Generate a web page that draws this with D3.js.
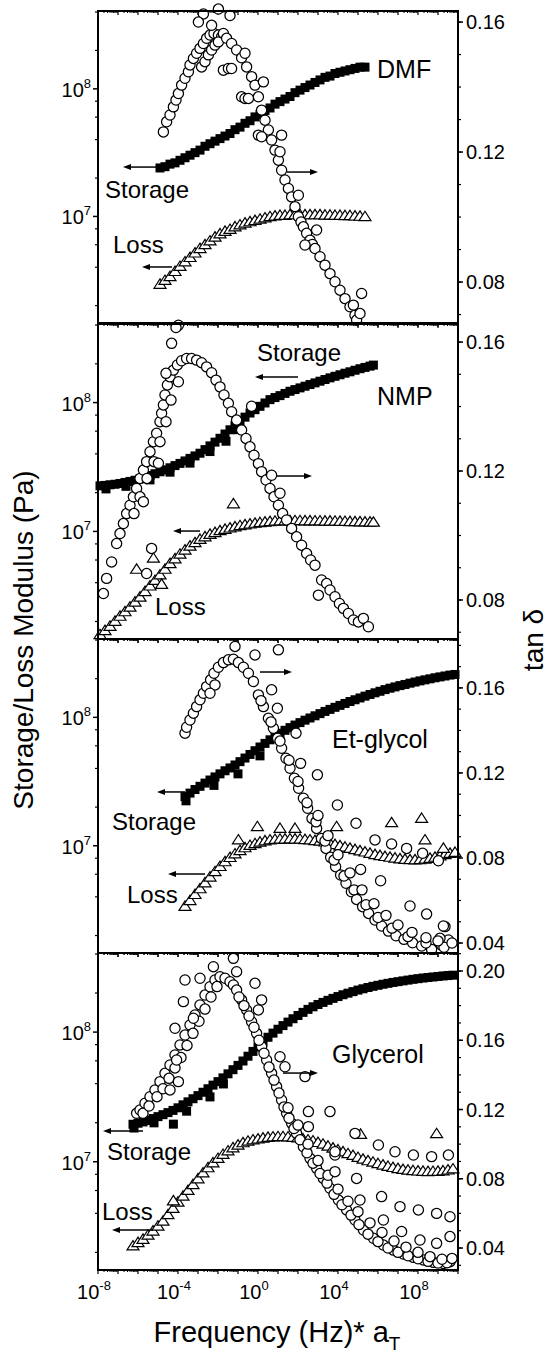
<!DOCTYPE html>
<html><head><meta charset="utf-8">
<script src="https://cdn.jsdelivr.net/npm/d3@7"></script>
<style>body{margin:0;background:#fff}svg{display:block}text{font-family:"Liberation Sans",Arial,sans-serif;fill:#000}</style>
</head><body><svg id="c" width="550" height="1355"></svg>
<script>
// ---------- DATA: [log10 frequency (Hz*aT), log10 modulus (Pa)] or [log10 f, tan delta] ----------
const xTickExps = [-8, -4, 0, 4, 8];
const panelNames = ["DMF", "NMP", "Et-glycol", "Glycerol"];
const tanTickLabels = [[0.08,0.12,0.16],[0.08,0.12,0.16],[0.04,0.08,0.12,0.16],[0.04,0.08,0.12,0.16,0.20]];

const dmfStorage = [[-4.90,7.38],[-4.65,7.39],[-4.40,7.41],[-4.15,7.42],[-3.90,7.44],[-3.65,7.46],[-3.40,7.48],[-3.15,7.50],[-2.90,7.52],[-2.65,7.55],[-2.40,7.57],[-2.15,7.59],[-1.90,7.61],[-1.65,7.63],[-1.40,7.65],[-1.15,7.68],[-0.90,7.70],[-0.65,7.73],[-0.40,7.75],[-0.15,7.78],[0.10,7.80],[0.35,7.83],[0.60,7.85],[0.85,7.88],[1.10,7.90],[1.35,7.92],[1.60,7.94],[1.85,7.97],[2.10,7.99],[2.35,8.01],[2.60,8.03],[2.85,8.05],[3.10,8.07],[3.35,8.09],[3.60,8.10],[3.85,8.12],[4.10,8.13],[4.35,8.14],[4.60,8.15],[4.85,8.16],[5.10,8.17],[5.35,8.17]];
const dmfLoss = [[-4.90,6.47],[-4.65,6.50],[-4.40,6.53],[-4.15,6.57],[-3.90,6.61],[-3.65,6.645],[-3.40,6.68],[-3.15,6.715],[-2.90,6.75],[-2.65,6.78],[-2.40,6.81],[-2.15,6.84],[-1.90,6.865],[-1.65,6.885],[-1.40,6.90],[-1.15,6.92],[-0.90,6.935],[-0.65,6.95],[-0.40,6.96],[-0.15,6.97],[0.10,6.98],[0.35,6.99],[0.60,7.00],[0.85,7.005],[1.10,7.01],[1.35,7.01],[1.60,7.015],[1.85,7.015],[2.10,7.015],[2.35,7.015],[2.60,7.015],[2.85,7.015],[3.10,7.015],[3.35,7.012],[3.60,7.012],[3.85,7.01],[4.10,7.01],[4.35,7.008],[4.60,7.008],[4.85,7.005],[5.10,7.003],[5.35,7.0]];
const dmfTan = [[-4.73,0.1262],[-4.57,0.1293],[-4.40,0.1314],[-4.23,0.1339],[-4.10,0.1360],[-3.98,0.1380],[-3.82,0.1406],[-3.65,0.1427],[-3.48,0.1447],[-3.40,0.1468],[-3.23,0.1488],[-3.07,0.1504],[-2.90,0.1519],[-2.73,0.1534],[-2.57,0.1550],[-2.40,0.1560],[-2.20,0.1565],[-1.98,0.1560],[-1.82,0.1555],
[-2.82,0.1462],[-2.65,0.1478],[-2.48,0.1499],[-2.32,0.1514],[-2.15,0.1529],[-1.98,0.1539],
[-2.73,0.1625],[-1.98,0.1640],[-1.40,0.1620],[-2.98,0.1600],[-2.32,0.1590],[-1.73,0.1565],
[-1.57,0.1550],[-1.32,0.1534],[-1.07,0.1514],[-0.82,0.1490],[-0.57,0.1462],[-0.32,0.1432],[-0.15,0.1406],[0.02,0.1370],[0.18,0.1329],[0.35,0.1298],[0.52,0.1268],[0.68,0.1237],[0.85,0.1206],[1.02,0.1175],[1.18,0.1144],[1.35,0.1114],[1.52,0.1088],[1.68,0.1062],[1.85,0.1032],[2.02,0.1001],[2.15,0.0985],[2.27,0.0970],[2.43,0.0950],[2.60,0.0929],[2.72,0.0916],[2.85,0.0903],[3.10,0.0878],[3.35,0.0852],[3.60,0.0826],[3.85,0.0801],[4.10,0.0775],[4.35,0.0749],[4.60,0.0724],[4.85,0.0698],[4.93,0.0683],
[-1.73,0.1452],[-1.48,0.1457],[-1.32,0.1457],[-0.82,0.1370],[-0.65,0.1365],[-0.48,0.1365],[0.02,0.1252],[0.18,0.1247],
[-0.65,0.1504],[0.27,0.1416],[1.18,0.1252],[1.10,0.1201],[2.02,0.1067],[2.93,0.0960],[2.35,0.0914],[5.18,0.0765],[4.77,0.0729],[5.10,0.0703],[-3.98,0.0667]];

const nmpStorage = [[-7.90,7.354],[-7.65,7.357],[-7.40,7.362],[-7.15,7.366],[-6.90,7.372],[-6.65,7.380],[-6.40,7.388],[-6.15,7.397],[-5.90,7.408],[-5.65,7.420],[-5.40,7.434],[-5.15,7.448],[-4.90,7.463],[-4.65,7.478],[-4.40,7.494],[-4.15,7.511],[-3.90,7.528],[-3.65,7.547],[-3.40,7.567],[-3.15,7.586],[-2.90,7.607],[-2.65,7.635],[-2.40,7.664],[-2.15,7.693],[-1.90,7.723],[-1.65,7.756],[-1.40,7.789],[-1.15,7.821],[-0.90,7.854],[-0.65,7.887],[-0.40,7.919],[-0.15,7.945],[0.10,7.971],[0.35,7.997],[0.60,8.023],[0.85,8.039],[1.10,8.054],[1.35,8.071],[1.60,8.088],[1.85,8.101],[2.10,8.114],[2.35,8.127],[2.60,8.140],[2.85,8.153],[3.10,8.166],[3.35,8.179],[3.60,8.192],[3.85,8.204],[4.10,8.216],[4.35,8.228],[4.60,8.239],[4.85,8.251],[5.10,8.263],[5.35,8.273],[5.60,8.283],[5.77,8.291],
[-7.6,7.33],[-6.6,7.35],[-5.4,7.40],[-4.4,7.46],[-3.4,7.53],[-2.4,7.62],[-1.6,7.70],[-1.0,7.79]];
const nmpLoss = [[-7.90,6.200],[-7.65,6.232],[-7.40,6.265],[-7.15,6.304],[-6.90,6.343],[-6.65,6.378],[-6.40,6.414],[-6.15,6.453],[-5.90,6.492],[-5.65,6.535],[-5.40,6.578],[-5.15,6.621],[-4.90,6.664],[-4.65,6.708],[-4.40,6.752],[-4.15,6.789],[-3.90,6.825],[-3.65,6.857],[-3.40,6.888],[-3.15,6.914],[-2.90,6.940],[-2.65,6.960],[-2.40,6.979],[-2.15,6.993],[-1.90,7.007],[-1.65,7.018],[-1.40,7.028],[-1.15,7.037],[-0.90,7.046],[-0.65,7.053],[-0.40,7.059],[-0.15,7.065],[0.10,7.070],[0.35,7.074],[0.60,7.078],[0.85,7.081],[1.10,7.083],[1.35,7.084],[1.60,7.085],[1.85,7.085],[2.10,7.085],[2.35,7.084],[2.60,7.084],[2.85,7.083],[3.10,7.083],[3.35,7.082],[3.60,7.082],[3.85,7.081],[4.10,7.080],[4.35,7.079],[4.60,7.078],[4.85,7.077],[5.10,7.076],[5.35,7.075],[5.60,7.074],[5.77,7.073],
[-1.23,7.216],[-6.07,6.708],[-5.23,6.794],[-4.82,6.591]];
const nmpTan = [[-7.73,0.0820],[-7.57,0.0867],[-7.32,0.0918],[-7.07,0.0975],[-6.90,0.1006],[-6.73,0.1037],[-6.57,0.1068],[-6.40,0.1094],[-6.23,0.1120],[-6.07,0.1146],[-5.90,0.1177],[-5.73,0.1203],[-5.57,0.1229],[-5.40,0.1260],[-5.23,0.1291],[-5.07,0.1317],[-4.90,0.1353],[-4.82,0.1379],[-4.73,0.1405],[-4.65,0.1436],[-4.53,0.1467],[-4.40,0.1492],[-4.23,0.1513],[-4.03,0.1529],[-3.82,0.1542],[-3.57,0.1549],[-3.32,0.1549],[-3.07,0.1544],[-2.82,0.1536],[-2.57,0.1523],[-2.32,0.1505],[-2.10,0.1482],[-1.90,0.1461],[-1.70,0.1436],[-1.48,0.1410],[-1.32,0.1384],[-1.07,0.1358],[-0.82,0.1327],[-0.60,0.1301],[-0.40,0.1275],[-0.20,0.1249],[0.02,0.1223],[0.18,0.1198],[0.40,0.1172],[0.60,0.1146],[0.80,0.1120],[1.02,0.1094],[1.23,0.1068],[1.43,0.1048],[1.68,0.1022],[1.93,0.0996],[2.18,0.0970],[2.43,0.0944],[2.63,0.0924],[2.85,0.0908],
[3.02,0.0815],[3.18,0.0862],[3.43,0.0851],[3.60,0.0831],[3.85,0.0810],[4.07,0.0789],[4.27,0.0774],[4.52,0.0758],[4.77,0.0738],[5.02,0.0732],[5.27,0.0743],[5.52,0.0717],
[-6.2,0.1068],[-5.9,0.1120],[-5.55,0.1177],[-5.2,0.1229],[-4.9,0.1291],[-4.6,0.1353],[-4.35,0.1420],
[-5.73,0.1105],[-4.98,0.1224],[-5.32,0.0960],[-5.57,0.0882],[-4.32,0.1596],[-4.10,0.1645],[-4.60,0.1503],[-3.98,0.1477],[-0.32,0.1401],[0.68,0.1187],[1.10,0.1131]];

const etStorage = [[-3.65,7.383],[-3.40,7.410],[-3.15,7.438],[-2.90,7.463],[-2.65,7.488],[-2.40,7.512],[-2.15,7.536],[-1.90,7.560],[-1.65,7.584],[-1.40,7.606],[-1.15,7.629],[-0.90,7.655],[-0.65,7.683],[-0.40,7.711],[-0.15,7.740],[0.10,7.769],[0.35,7.797],[0.60,7.825],[0.85,7.852],[1.10,7.876],[1.35,7.899],[1.60,7.920],[1.85,7.940],[2.10,7.959],[2.35,7.978],[2.60,7.995],[2.85,8.012],[3.10,8.029],[3.35,8.046],[3.60,8.062],[3.85,8.078],[4.10,8.093],[4.35,8.108],[4.60,8.123],[4.85,8.137],[5.10,8.151],[5.35,8.165],[5.60,8.178],[5.85,8.191],[6.10,8.203],[6.35,8.216],[6.60,8.227],[6.85,8.237],[7.10,8.247],[7.35,8.256],[7.60,8.266],[7.85,8.275],[8.10,8.284],[8.35,8.292],[8.60,8.300],[8.85,8.308],[9.10,8.315],[9.35,8.322],[9.60,8.329],[9.85,8.334],
[-3.6,7.35],[-2.2,7.47],[-1.0,7.56],[0.1,7.70]];
const etLoss = [[-3.65,6.530],[-3.40,6.575],[-3.15,6.622],[-2.90,6.667],[-2.65,6.713],[-2.40,6.758],[-2.15,6.800],[-1.90,6.840],[-1.65,6.877],[-1.40,6.910],[-1.15,6.938],[-0.90,6.964],[-0.65,6.986],[-0.40,7.004],[-0.15,7.018],[0.10,7.030],[0.35,7.040],[0.60,7.047],[0.85,7.051],[1.10,7.053],[1.35,7.054],[1.60,7.055],[1.85,7.054],[2.10,7.053],[2.35,7.050],[2.60,7.047],[2.85,7.042],[3.10,7.037],[3.35,7.031],[3.60,7.021],[3.85,7.011],[4.10,7.001],[4.35,6.991],[4.60,6.982],[4.85,6.972],[5.10,6.962],[5.35,6.953],[5.60,6.943],[5.85,6.933],[6.10,6.925],[6.35,6.918],[6.60,6.912],[6.85,6.906],[7.10,6.900],[7.35,6.896],[7.60,6.893],[7.85,6.892],[8.10,6.893],[8.35,6.897],[8.60,6.904],[8.85,6.912],[9.10,6.922],[9.35,6.932],[9.60,6.943],[9.85,6.950],
[-0.03,7.150],[1.10,7.137],[1.85,7.137],[3.93,7.150],[6.68,7.181],[8.18,7.215],[-0.98,7.047],[8.35,7.047],[9.27,6.982]];
const etTan = [[-3.65,0.1387],[-3.57,0.1415],[-3.40,0.1449],[-3.23,0.1481],[-3.07,0.1512],[-2.90,0.1544],[-2.73,0.1575],[-2.57,0.1606],[-2.37,0.1638],[-2.20,0.1669],[-1.98,0.1697],[-1.73,0.1719],[-1.48,0.1732],[-1.23,0.1735],[-0.98,0.1719],[-0.73,0.1697],[-0.48,0.1669],[-2.15,0.1614],[-2.40,0.1575],
[-0.23,0.1630],[0.02,0.1567],[0.27,0.1512],[0.52,0.1457],[0.77,0.1410],[0.98,0.1363],[1.18,0.1316],[1.40,0.1269],[1.60,0.1222],[1.82,0.1175],[2.03,0.1128],[2.27,0.1081],[2.48,0.1034],[2.70,0.0986],[2.93,0.0939],[3.17,0.0892],[3.40,0.0845],[3.63,0.0803],[3.88,0.0759],[4.13,0.0720],[4.40,0.0681],[4.67,0.0641],[4.93,0.0605],[5.23,0.0571],[5.53,0.0539],[5.85,0.0508],[6.18,0.0480],[6.52,0.0456],[6.90,0.0434],[7.30,0.0417],[7.73,0.0401],[8.18,0.0386],[8.68,0.0370],[9.18,0.0390],[9.52,0.0414],[9.10,0.0422],[9.35,0.0477],
[0.15,0.1540],[0.65,0.1440],[1.1,0.1350],[1.55,0.1260],[2.0,0.1160],[2.45,0.1060],[2.9,0.0970],[3.35,0.0880],[3.8,0.0790],[4.3,0.0715],[4.8,0.0650],[5.4,0.0580],[6.0,0.0520],[6.7,0.0470],[7.5,0.0430],[8.4,0.0400],[9.3,0.0380],
[3.0,0.1000],[3.5,0.0905],[4.0,0.0815],[4.6,0.0730],[5.2,0.0650],[5.8,0.0585],[6.4,0.0530],[7.0,0.0485],[7.7,0.0450],[8.4,0.0425],[9.0,0.0410],[9.7,0.0400],
[-1.15,0.1795],[-0.15,0.1755],[1.02,0.1779],[0.68,0.1591],[0.97,0.1504],[1.90,0.1387],[2.13,0.1245],[2.97,0.1191],[3.97,0.1049],[4.90,0.0963],[5.85,0.0885],[6.68,0.0866],[7.43,0.0845],[8.23,0.0822],[9.02,0.0787],[5.13,0.0746],[6.13,0.0693],[7.60,0.0574],[8.43,0.0536],[9.27,0.0480]];

const glyStorage = [[-6.25,7.289],[-6.00,7.297],[-5.75,7.307],[-5.50,7.318],[-5.25,7.333],[-5.00,7.348],[-4.75,7.363],[-4.50,7.379],[-4.25,7.396],[-4.00,7.416],[-3.75,7.439],[-3.50,7.462],[-3.25,7.486],[-3.00,7.510],[-2.75,7.536],[-2.50,7.563],[-2.25,7.591],[-2.00,7.618],[-1.75,7.647],[-1.50,7.678],[-1.25,7.710],[-1.00,7.743],[-0.75,7.777],[-0.50,7.814],[-0.25,7.851],[0.00,7.886],[0.25,7.924],[0.50,7.960],[0.75,7.992],[1.00,8.022],[1.25,8.050],[1.50,8.077],[1.75,8.103],[2.00,8.128],[2.25,8.152],[2.50,8.175],[2.75,8.195],[3.00,8.213],[3.25,8.229],[3.50,8.245],[3.75,8.260],[4.00,8.274],[4.25,8.288],[4.50,8.300],[4.75,8.312],[5.00,8.324],[5.25,8.334],[5.50,8.344],[5.75,8.353],[6.00,8.361],[6.25,8.369],[6.50,8.376],[6.75,8.383],[7.00,8.389],[7.25,8.395],[7.50,8.401],[7.75,8.407],[8.00,8.412],[8.25,8.417],[8.50,8.421],[8.75,8.425],[9.00,8.429],[9.25,8.433],[9.50,8.436],[9.75,8.439],
[-6.2,7.26],[-5.2,7.30],[-4.23,7.29],[-3.57,7.39],[-2.4,7.50],[-1.73,7.60]];
const glyLoss = [[-6.25,6.352],[-6.00,6.378],[-5.75,6.403],[-5.50,6.435],[-5.25,6.467],[-5.00,6.505],[-4.75,6.543],[-4.50,6.593],[-4.25,6.642],[-4.00,6.690],[-3.75,6.736],[-3.50,6.780],[-3.25,6.825],[-3.00,6.870],[-2.75,6.915],[-2.50,6.955],[-2.25,6.993],[-2.00,7.027],[-1.75,7.058],[-1.50,7.085],[-1.25,7.109],[-1.00,7.130],[-0.75,7.148],[-0.50,7.160],[-0.25,7.170],[0.00,7.177],[0.25,7.184],[0.50,7.190],[0.75,7.193],[1.00,7.195],[1.25,7.195],[1.50,7.193],[1.75,7.190],[2.00,7.186],[2.25,7.178],[2.50,7.170],[2.75,7.162],[3.00,7.150],[3.25,7.137],[3.50,7.122],[3.75,7.107],[4.00,7.093],[4.25,7.078],[4.50,7.064],[4.75,7.050],[5.00,7.035],[5.25,7.021],[5.50,7.009],[5.75,6.998],[6.00,6.987],[6.25,6.976],[6.50,6.966],[6.75,6.957],[7.00,6.949],[7.25,6.942],[7.50,6.937],[7.75,6.933],[8.00,6.930],[8.25,6.928],[8.50,6.926],[8.75,6.927],[9.00,6.928],[9.25,6.931],[9.50,6.938],[9.75,6.946],
[-4.23,6.700],[5.13,7.213],[8.93,7.218]];
const glyTan = [[-6.07,0.1178],[-5.90,0.1197],[-5.65,0.1236],[-5.40,0.1274],[-5.15,0.1313],[-4.90,0.1361],[-4.65,0.1409],[-4.40,0.1457],[-4.15,0.1515],[-3.90,0.1573],[-3.65,0.1630],[-3.40,0.1688],[-3.15,0.1746],[-2.90,0.1804],[-2.65,0.1861],[-2.40,0.1909],[-2.15,0.1948],[-1.90,0.1967],[-1.65,0.1958],[-1.40,0.1938],[-1.23,0.1919],
[-5.75,0.1178],[-5.45,0.1220],[-5.05,0.1274],[-4.75,0.1320],[-4.45,0.1380],[-4.15,0.1440],[-3.85,0.1500],[-3.55,0.1570],[-3.25,0.1640],[-2.95,0.1710],[-2.65,0.1780],[-2.35,0.1850],[-2.05,0.1910],
[-4.15,0.1669],[-3.73,0.1823],[-3.65,0.1948],[-2.90,0.1958],[-2.23,0.2025],[-1.23,0.2073],[-1.07,0.1996],[-3.23,0.1727],[-4.40,0.1313],[-3.98,0.1361],[-4.07,0.1486],
[-1.07,0.1890],[-0.82,0.1833],[-0.57,0.1775],[-0.32,0.1707],[-0.07,0.1640],[0.18,0.1563],[0.43,0.1486],[0.68,0.1409],[0.93,0.1332],[1.18,0.1255],[1.43,0.1178],[1.68,0.1120],[1.93,0.1062],[2.27,0.0985],[2.60,0.0918],[2.93,0.0860],[3.27,0.0802],[3.60,0.0745],[4.02,0.0677],[4.43,0.0620],[4.85,0.0562],[5.27,0.0504],[5.77,0.0456],[6.27,0.0417],[6.77,0.0388],[7.27,0.0365],[7.77,0.0346],[8.27,0.0331],[8.77,0.0317],[9.27,0.0311],[9.60,0.0321],
[-0.95,0.1850],[-0.7,0.1800],[-0.45,0.1740],[-0.2,0.1675],[0.05,0.1600],[0.3,0.1525],[0.55,0.1445],[0.8,0.1370],[1.05,0.1295],[1.3,0.1215],[1.55,0.1150],[1.8,0.1090],[2.1,0.1025],[2.45,0.0950],[2.75,0.0890],[3.1,0.0830],[3.45,0.0775],[3.8,0.0710],[4.2,0.0650],[4.65,0.0590],[5.05,0.0535],[5.5,0.0480],[6.0,0.0437],[6.5,0.0400],[7.0,0.0375],[7.5,0.0355],[8.0,0.0338],[8.5,0.0323],[9.0,0.0313],[9.45,0.0315],
[1.5,0.1210],[2.0,0.1110],[2.5,0.1000],[3.0,0.0905],[3.5,0.0820],[4.0,0.0740],[4.5,0.0670],[5.0,0.0610],[5.6,0.0545],[6.2,0.0490],[6.8,0.0440],[7.4,0.0405],[8.0,0.0375],[8.6,0.0350],[9.2,0.0335],[9.7,0.0340],
[-0.15,0.1929],[0.18,0.1833],[0.02,0.1775],[1.10,0.1505],[1.35,0.1447],[2.35,0.1390],[2.52,0.1188],[3.60,0.1188],[2.52,0.1101],[3.85,0.0937],[4.93,0.0802],[5.10,0.0677],[6.18,0.0697],[7.10,0.0639],[8.02,0.0620],[8.93,0.0600],[9.60,0.0581],[6.27,0.0562],[7.18,0.0495],[8.10,0.0446],[8.93,0.0427],[9.60,0.0466],[4.85,0.1062],[6.02,0.0995],[6.85,0.0956],[7.77,0.0937],[8.68,0.0928],[9.52,0.0937],[3.85,0.0956],[3.85,0.0841]];

// annotations in data space: text [logf, logG, label]; arrows [logf from, logf to, logG]
const annText = [
  [[-7.65,7.144,"Storage"],[-7.25,6.713,"Loss"]],
  [[-0.05,8.323,"Storage"],[-5.15,6.351,"Loss"]],
  [[-7.3,7.123,"Storage"],[-6.55,6.554,"Loss"]],
  [[-7.55,7.013,"Storage"],[-7.8,6.551,"Loss"]]];
const nameLabel = [[5.95,8.085],[5.95,7.981],[3.7,7.761],[3.7,7.762]];
const annArrows = [
  [[-5.05,-6.75,7.387],[-4.3,-5.8,6.604],[1.45,3.0,7.348]],
  [[2.0,-0.15,8.199],[-2.9,-4.25,7.003],[0.95,2.7,7.430]],
  [[-3.65,-5.05,7.419],[-2.65,-4.5,6.780],[0.1,1.7,8.353]],
  [[-5.75,-7.75,7.237],[-5.25,-7.3,6.474],[1.25,3.0,7.684]]];

const storageSets = [dmfStorage, nmpStorage, etStorage, glyStorage];
const lossSets = [dmfLoss, nmpLoss, etLoss, glyLoss];
const tanSets = [dmfTan, nmpTan, etTan, glyTan];
const tanDomains = [[0.0674,0.1634],[0.0679,0.1656],[0.0353,0.183],[0.0273,0.2104]];
const modDomain = [Math.pow(10,6.165), Math.pow(10,8.61)];

// ---------- LAYOUT ----------
const tops = [11, 324, 639, 953], bottoms = [323, 639, 953, 1270];
const L = 98, R = 458;
const svg = d3.select("#c");
const x = d3.scaleLog().domain([1e-8, 1e10]).range([L, R]);
const P = v => Math.pow(10, v);

function supText(g, xx, yy, base, sup, anchor) {
  const t = g.append("text").attr("x", xx).attr("y", yy).attr("font-size", 20).attr("text-anchor", anchor);
  t.append("tspan").text(base);
  t.append("tspan").attr("font-size", 13).attr("dy", -9).text(sup);
}

panelNames.forEach((name, i) => {
  const top = tops[i], bot = bottoms[i];
  const y = d3.scaleLog().domain(modDomain).range([bot, top]);
  const yt = d3.scaleLinear().domain(tanDomains[i]).range([bot, top]);
  const g = svg.append("g");

  // x ticks (bottom and top of each panel)
  const decs = d3.range(-8, 11);
  const minor = [];
  decs.forEach(d => { for (let k = 2; k <= 9; k++) { const v = d + Math.log10(k); if (v < 10) minor.push(v); } });
  decs.forEach(d => {
    g.append("line").attr("x1", x(P(d))).attr("x2", x(P(d))).attr("y1", bot).attr("y2", bot + 4).attr("stroke", "#000").attr("stroke-width", 1.2);
    g.append("line").attr("x1", x(P(d))).attr("x2", x(P(d))).attr("y1", top).attr("y2", top + 4).attr("stroke", "#000").attr("stroke-width", 1.2);
  });
  minor.forEach(d => {
    g.append("line").attr("x1", x(P(d))).attr("x2", x(P(d))).attr("y1", bot).attr("y2", bot + 2).attr("stroke", "#000").attr("stroke-width", 1);
    g.append("line").attr("x1", x(P(d))).attr("x2", x(P(d))).attr("y1", top).attr("y2", top + 2).attr("stroke", "#000").attr("stroke-width", 1);
  });

  // left ticks
  [6, 7, 8].forEach(e => {
    [2, 4, 6, 8].forEach(k => {
      const v = k * P(e);
      if (v >= modDomain[0] && v <= modDomain[1])
        g.append("line").attr("x1", L - 3).attr("x2", L).attr("y1", y(v)).attr("y2", y(v)).attr("stroke", "#000").attr("stroke-width", 1.2);
    });
  });
  [7, 8].forEach(e => {
    g.append("line").attr("x1", L - 5).attr("x2", L).attr("y1", y(P(e))).attr("y2", y(P(e))).attr("stroke", "#000").attr("stroke-width", 1.5);
    supText(g, L - 7, y(P(e)) + 8, "10", String(e), "end");
  });

  // right ticks
  const td = tanDomains[i];
  for (let v = Math.ceil(td[0] * 100) / 100; v <= td[1] + 1e-9; v = Math.round((v + 0.01) * 100) / 100) {
    g.append("line").attr("x1", R).attr("x2", R + 3).attr("y1", yt(v)).attr("y2", yt(v)).attr("stroke", "#000").attr("stroke-width", 1.2);
  }
  tanTickLabels[i].forEach(v => {
    g.append("line").attr("x1", R).attr("x2", R + 5).attr("y1", yt(v)).attr("y2", yt(v)).attr("stroke", "#000").attr("stroke-width", 1.5);
    g.append("text").attr("x", R + 8).attr("y", yt(v) + 7).attr("font-size", 20).text(v.toFixed(2));
  });

  // data: storage squares
  g.append("g").selectAll("rect").data(storageSets[i]).join("rect")
    .attr("x", d => x(P(d[0])) - 4.5).attr("y", d => y(P(d[1])) - 4.5)
    .attr("width", 9).attr("height", 9).attr("fill", "#000");
  // loss triangles
  g.append("g").selectAll("path").data(lossSets[i]).join("path")
    .attr("transform", d => `translate(${x(P(d[0]))},${y(P(d[1]))})`)
    .attr("d", "M0,-5.2L6,4.2L-6,4.2Z").attr("fill", "#fff").attr("stroke", "#000").attr("stroke-width", 1.2);
  // tan delta circles
  g.append("g").selectAll("circle").data(tanSets[i]).join("circle")
    .attr("cx", d => x(P(d[0]))).attr("cy", d => yt(d[1])).attr("r", 5.1)
    .attr("fill", "#fff").attr("stroke", "#000").attr("stroke-width", 1.25);

  // frame
  g.append("rect").attr("x", L).attr("y", top).attr("width", R - L).attr("height", bot - top)
    .attr("fill", "none").attr("stroke", "#000").attr("stroke-width", 2);

  // annotations
  annText[i].forEach(a => {
    g.append("text").attr("x", x(P(a[0]))).attr("y", y(P(a[1]))).attr("font-size", 24).text(a[2]);
  });
  g.append("text").attr("x", x(P(nameLabel[i][0]))).attr("y", y(P(nameLabel[i][1]))).attr("font-size", 25).text(name);
  annArrows[i].forEach(a => {
    const x1 = x(P(a[0])), x2 = x(P(a[1])), yy = y(P(a[2]));
    const dir = Math.sign(x2 - x1);
    g.append("line").attr("x1", x1).attr("x2", x2 - dir * 5).attr("y1", yy).attr("y2", yy).attr("stroke", "#000").attr("stroke-width", 1.5);
    g.append("path").attr("d", `M${x2},${yy}L${x2 - dir * 8},${yy - 3}L${x2 - dir * 8},${yy + 3}Z`).attr("fill", "#000");
  });

  // bottom x labels only on last panel
  if (i === 3) {
    xTickExps.forEach(e => {
      supText(g, x(P(e)) - 4, bot + 29, "10", String(e), "middle");
    });
  }
});

// axis titles
svg.append("text").attr("transform", "translate(33,640) rotate(-90)").attr("text-anchor", "middle").attr("font-size", 28).text("Storage/Loss Modulus (Pa)");
svg.append("text").attr("transform", "translate(543,640) rotate(-90)").attr("text-anchor", "middle").attr("font-size", 28).text("tan δ");
const xt = svg.append("text").attr("x", 277).attr("y", 1342).attr("text-anchor", "middle").attr("font-size", 29);
xt.append("tspan").text("Frequency (Hz)* a");
xt.append("tspan").attr("font-size", 19).attr("dy", 8).text("T");
</script></body></html>
